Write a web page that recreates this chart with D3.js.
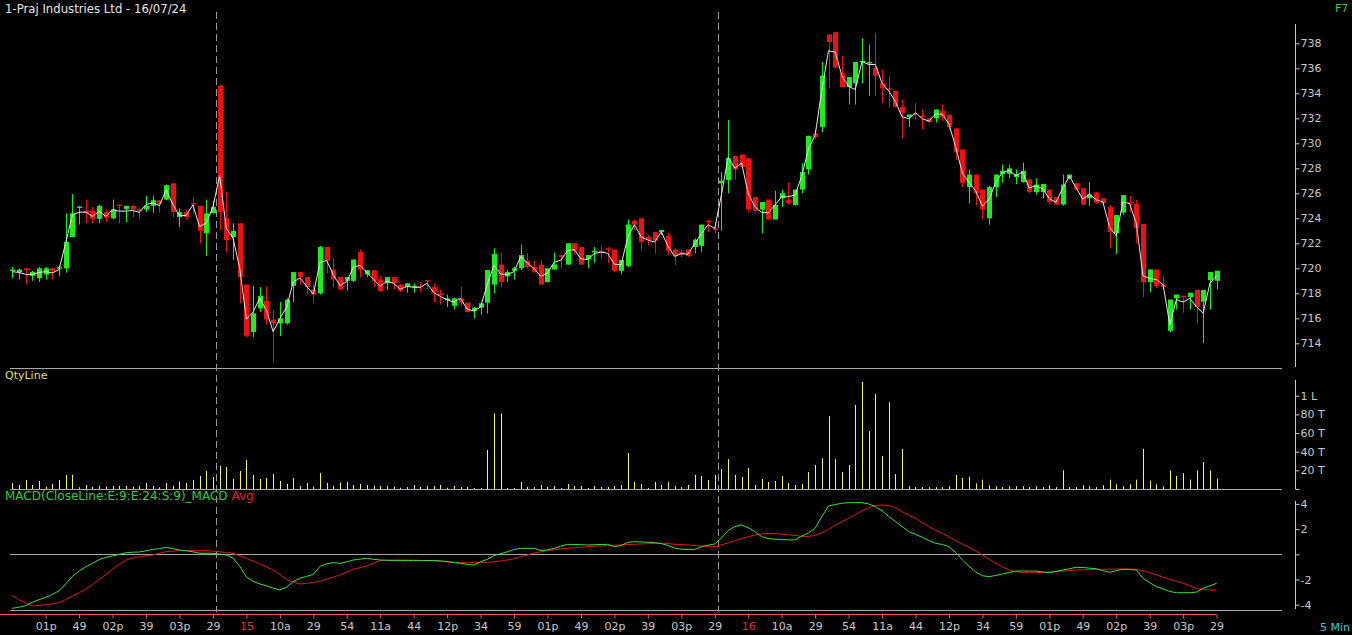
<!DOCTYPE html>
<html><head><meta charset="utf-8">
<script src="https://cdn.jsdelivr.net/npm/d3@7"></script>
<style>
html,body{margin:0;padding:0;background:#000;}
svg{display:block;font-family:"DejaVu Sans",sans-serif;}
</style></head><body>
<svg id="c" width="1352" height="635"></svg>
<script>
const title = "1-Praj Industries Ltd - 16/07/24";
const timeLabels = ["01p","49","02p","39","03p","29","15","10a","29","54","11a","44","12p","34","59","01p","49","02p","39","03p","29","16","10a","29","54","11a","44","12p","34","59","01p","49","02p","39","03p","29"];
const dateLabels = ["15","16"];
const dayStarts = [31,106];
const opens = [719.8,719.7,720.0,719.4,719.2,719.5,720.0,720.0,720.0,722.5,724.85,724.6,724.6,723.95,724.5,724.0,725.1,724.75,725.0,724.7,724.7,725.0,725.45,725.5,726.8,724.1,724.5,725.2,725.0,722.8,724.4,734.6,724.0,722.5,723.6,718.7,714.9,716.8,717.4,715.9,715.6,715.6,718.6,719.7,719.3,718.3,718.0,721.7,719.9,719.3,719.0,719.0,721.3,719.5,719.85,719.1,718.8,719.3,718.7,718.5,718.5,718.6,719.06,718.5,718.0,717.45,717.0,717.6,717.25,716.6,716.85,717.25,718.7,720.3,719.35,719.8,720.0,720.6,720.1,720.3,718.9,719.9,721.06,720.3,722.0,721.7,720.7,721.35,721.4,721.6,721.5,719.8,720.2,723.8,724.0,722.5,722.9,722.9,722.6,721.5,721.3,721.5,721.7,721.8,723.8,723.2,726.8,727.06,729.0,729.1,728.8,725.7,724.7,725.5,723.9,725.6,725.5,725.07,726.3,727.9,730.8,731.3,738.7,738.9,735.6,734.5,734.8,736.5,736.4,736.05,734.8,734.4,734.2,732.9,732.1,732.4,732.2,732.0,732.0,732.6,732.3,731.2,729.5,726.5,727.5,726.3,724.0,726.5,727.55,727.55,727.3,726.9,727.1,726.1,726.1,726.3,725.7,725.1,727.2,726.8,726.4,725.6,726.06,725.6,724.9,722.8,724.45,725.3,725.14,723.55,718.9,719.9,718.7,715.0,717.6,717.8,717.7,718.26,717.33,719.06,719.0];
const highs = [720.1,720.0,720.0,719.8,720.1,720.1,720.0,720.2,724.4,725.95,725.0,725.5,724.9,725.1,724.7,725.5,725.1,725.0,725.1,724.8,725.8,725.8,725.45,726.7,726.8,724.8,724.7,725.7,725.0,725.5,725.4,734.7,726.1,723.6,723.6,718.7,718.6,718.5,718.5,716.7,717.3,717.6,719.7,719.7,719.3,718.7,721.8,721.7,720.8,719.3,719.3,720.7,721.5,719.85,719.85,719.4,719.3,719.3,718.7,718.8,718.8,718.9,719.1,718.8,718.3,717.9,717.6,718.5,717.25,716.9,717.2,719.86,721.6,721.25,719.9,720.1,721.9,721.2,720.6,720.66,720.0,721.25,721.06,722.0,722.0,721.7,721.06,721.7,721.8,721.7,721.5,720.66,723.9,723.9,724.0,722.66,722.9,723.06,722.85,721.6,721.5,721.5,722.4,723.5,723.9,723.7,727.7,731.86,729.0,729.1,728.8,725.7,725.3,725.5,726.2,726.3,726.9,726.3,728.4,730.6,731.1,736.5,738.7,738.9,737.0,735.3,736.5,738.4,737.9,738.85,735.9,735.4,734.2,733.5,732.3,733.2,732.7,732.0,732.7,733.1,732.3,731.2,729.5,727.9,727.5,726.3,726.6,727.5,728.3,728.3,727.9,728.45,727.2,727.2,726.75,726.3,725.7,727.5,727.5,726.8,726.5,726.9,726.06,725.6,725.06,724.26,725.86,725.8,725.46,723.55,719.9,719.9,719.4,717.5,717.9,717.8,718.05,718.26,718.26,719.7,719.8];
const lows = [719.2,719.1,718.7,719.0,718.9,719.1,719.1,719.4,719.65,722.5,723.5,723.6,723.6,723.6,723.7,723.9,723.6,723.7,724.1,724.0,724.5,724.45,724.45,725.45,724.1,723.3,723.9,724.4,722.0,721.0,724.4,723.06,721.25,720.66,717.2,714.5,714.5,716.5,715.5,712.5,714.6,715.5,717.3,718.7,717.9,717.2,717.9,719.6,718.5,718.26,718.2,718.9,719.3,719.3,718.5,718.1,718.3,718.3,718.1,718.05,718.05,718.05,718.3,717.3,717.1,716.9,716.7,717.0,716.45,716.0,716.3,716.4,718.0,718.5,718.9,719.1,719.86,720.0,719.65,718.7,718.85,719.9,720.0,720.26,721.1,720.26,720.0,720.45,720.8,720.4,719.7,719.5,720.1,723.06,721.46,721.86,721.2,722.66,721.06,720.26,720.9,720.9,721.2,721.3,722.9,722.8,723.0,726.0,727.1,728.1,724.45,724.45,722.8,723.9,723.9,724.9,725.07,725.0,726.0,727.5,730.3,730.9,734.4,736.0,734.5,733.1,733.1,734.8,733.8,733.8,733.2,732.9,732.9,730.4,731.3,731.9,731.1,731.6,731.65,731.8,731.06,728.66,726.5,725.2,725.06,723.9,723.5,725.7,726.85,727.2,726.75,726.85,726.0,725.9,725.6,725.1,725.06,725.0,727.1,726.26,725.0,725.0,725.14,725.14,721.6,721.14,724.26,724.5,722.0,717.7,718.1,718.4,718.4,714.9,716.7,716.45,716.7,715.6,714.0,716.7,718.3];
const closes = [719.9,719.9,719.85,719.7,720.0,720.0,719.8,720.1,722.1,724.4,724.95,724.4,723.95,725.0,724.05,724.7,725.0,725.0,724.7,724.6,725.0,725.45,725.15,726.65,724.5,724.5,724.1,725.1,723.0,724.4,724.9,724.5,722.26,723.0,719.3,714.6,716.4,717.8,715.9,715.6,716.0,717.5,719.7,719.3,718.5,717.9,721.7,720.6,719.1,718.3,719.3,720.7,719.9,719.85,719.0,718.2,719.3,718.8,718.2,718.8,718.6,718.5,719.0,718.05,717.85,717.6,717.6,717.25,716.5,716.85,717.2,719.86,721.15,718.9,719.7,720.0,721.06,720.1,719.7,718.7,720.0,720.3,720.9,722.0,721.4,720.3,721.06,721.4,721.3,721.5,719.8,720.66,723.5,723.5,722.1,722.26,722.2,723.06,721.4,720.98,721.1,720.98,722.3,723.5,723.7,723.06,727.0,728.8,727.9,728.1,724.7,724.6,725.3,723.9,725.07,726.0,725.2,726.3,727.7,730.6,730.5,735.4,738.1,736.05,734.5,735.3,736.5,736.6,736.5,735.4,734.4,734.3,732.9,732.45,732.3,732.26,732.1,731.7,732.7,732.1,731.3,729.3,726.85,727.5,726.0,724.7,726.5,727.5,727.8,728.0,727.55,727.8,726.1,726.7,726.75,725.3,725.1,726.7,727.5,726.3,725.1,725.9,725.25,725.2,722.9,724.26,725.86,725.2,723.2,718.9,719.9,718.6,718.5,717.5,717.9,717.7,718.05,716.9,718.26,719.7,719.8];
const priceLine = [719.73,719.67,719.52,719.5,719.67,719.73,719.63,719.9,722.05,724.28,724.48,724.5,724.15,724.57,724.15,724.7,724.57,724.57,724.63,724.47,725.1,725.23,725.02,726.27,725.13,724.2,724.23,725.07,723.33,723.63,724.9,727.42,723.2,722.42,720.03,715.93,716.5,717.6,716.63,714.93,715.97,716.87,718.9,719.23,718.57,717.93,720.47,720.63,719.47,718.62,718.93,720.1,720.23,719.67,719.12,718.57,718.97,718.8,718.33,718.55,718.48,718.48,718.8,718.05,717.75,717.47,717.3,717.58,716.73,716.58,716.9,718.71,720.25,719.55,719.5,719.73,720.94,720.43,719.98,719.35,719.62,720.48,720.65,721.42,721.5,720.75,720.71,721.18,721.3,721.2,720.33,720.27,722.5,723.49,722.52,722.26,722.1,722.93,721.77,720.95,721.17,721.13,721.97,722.77,723.5,723.19,725.9,728.89,728.0,728.43,725.98,724.92,724.47,724.43,725.06,725.73,725.72,725.87,727.37,729.57,730.63,734.27,737.4,737.3,735.4,734.55,734.3,736.55,736.3,736.3,734.8,734.2,733.33,732.12,731.97,732.45,731.97,731.77,732.35,732.33,731.55,729.72,727.62,726.87,726.19,724.97,725.53,726.9,727.65,727.83,727.4,727.7,726.43,726.6,726.37,725.57,725.29,726.4,727.37,726.45,725.53,725.93,725.48,725.31,723.3,722.6,725.33,725.17,723.6,719.4,719.2,719.1,718.7,715.5,717.5,717.3,717.6,716.92,716.4,718.8,719.4];
const volumes = [6.4,4.3,9.6,4.3,8.6,2.5,5.4,9.6,15,15,1.8,4.3,2.5,3.2,2.5,3.2,3.2,3.2,2.5,3.2,6.4,3.2,1.8,6.4,3.6,7.9,6.4,9.6,13.9,19.3,12.9,25,23.6,10.7,19.3,31,15,10.7,11.8,16,8.6,5.4,11.8,3.2,6.4,2.5,17,6.4,3.6,7.1,7.5,4.3,5.4,4.3,3.6,3.2,3.2,2.5,1.4,2.1,4.3,2.1,3.2,3.2,4.3,1.4,3.2,2.1,2.1,1.1,1.1,41.8,81,81,1.1,1.1,7.5,2.1,2.1,4.3,2.1,3.2,1.1,5.4,3.2,3.2,1.1,3.2,2.1,2.1,3.2,4.3,38.6,7.5,5.4,1.1,7.5,4.3,7.5,3.2,2.1,4.3,15,13.9,9.6,15,21.4,32,15,12.9,22.5,4.3,10.7,7.5,8.6,13.9,6.4,4.3,5.4,18.2,25.7,33,78,32,18.2,25.7,90,114.7,62,101.8,35.4,93,16,43,3,2,2,2,2,2,3,15,12,13,6,10,4,3,2,3,3,3,2,3,2,4,2,20,2,2,4,3,2,4,10,5,3,5,10,43,9,5,3,20,14,17,10,20,29,20,11];
const macdLine = [-4.29,-4.2,-4.08,-3.82,-3.6,-3.42,-3.18,-2.9,-2.35,-1.75,-1.32,-1.0,-0.72,-0.42,-0.25,-0.13,0.0,0.12,0.17,0.18,0.28,0.39,0.45,0.55,0.45,0.34,0.28,0.2,0.08,0.08,0.08,0.02,-0.06,-0.3,-0.95,-1.8,-2.15,-2.35,-2.5,-2.68,-2.83,-2.6,-2.17,-1.9,-1.75,-1.6,-0.95,-0.75,-0.66,-0.72,-0.6,-0.45,-0.38,-0.32,-0.4,-0.45,-0.47,-0.5,-0.5,-0.5,-0.5,-0.5,-0.5,-0.5,-0.52,-0.58,-0.65,-0.72,-0.8,-0.85,-0.6,-0.4,-0.1,0.05,0.2,0.38,0.47,0.47,0.47,0.3,0.35,0.47,0.65,0.79,0.78,0.76,0.74,0.76,0.78,0.79,0.6,0.7,0.95,1.0,0.98,0.96,0.93,0.85,0.7,0.5,0.4,0.39,0.39,0.6,0.72,0.82,1.3,1.88,2.2,2.33,2.1,1.8,1.4,1.25,1.2,1.17,1.15,1.14,1.45,1.7,2.06,3.0,3.83,3.95,4.05,4.1,4.1,4.1,4.0,3.78,3.45,3.0,2.6,2.2,1.8,1.58,1.35,1.1,0.87,0.78,0.6,0.15,-0.45,-0.95,-1.4,-1.7,-1.77,-1.68,-1.56,-1.45,-1.33,-1.33,-1.33,-1.33,-1.4,-1.46,-1.35,-1.25,-1.15,-1.03,-1.05,-1.1,-1.14,-1.3,-1.43,-1.3,-1.19,-1.2,-1.25,-1.91,-2.25,-2.57,-2.75,-2.95,-3.05,-3.05,-3.05,-3.0,-2.7,-2.5,-2.3];
const macdAvg = [-3.25,-3.6,-3.85,-4.1,-4.05,-4.0,-3.92,-3.84,-3.6,-3.31,-3.05,-2.78,-2.4,-1.99,-1.6,-1.19,-0.8,-0.45,-0.3,-0.19,-0.12,-0.06,0.08,0.21,0.25,0.29,0.29,0.29,0.29,0.28,0.26,0.2,0.14,0.08,-0.12,-0.32,-0.55,-0.77,-1.0,-1.25,-1.6,-1.99,-2.2,-2.36,-2.3,-2.25,-2.12,-1.99,-1.8,-1.64,-1.4,-1.19,-1.05,-0.93,-0.7,-0.5,-0.47,-0.45,-0.45,-0.46,-0.47,-0.48,-0.49,-0.5,-0.55,-0.6,-0.63,-0.66,-0.66,-0.66,-0.66,-0.66,-0.58,-0.53,-0.45,-0.35,-0.2,-0.05,0.1,0.2,0.29,0.36,0.43,0.47,0.52,0.56,0.6,0.64,0.66,0.69,0.72,0.75,0.78,0.8,0.82,0.84,0.86,0.87,0.85,0.8,0.77,0.74,0.7,0.66,0.63,0.61,0.75,0.9,1.08,1.25,1.4,1.52,1.62,1.67,1.64,1.6,1.55,1.5,1.42,1.42,1.5,1.7,2.0,2.3,2.6,2.85,3.15,3.46,3.7,3.88,3.91,3.86,3.7,3.38,3.1,2.85,2.5,2.19,1.9,1.67,1.38,1.08,0.8,0.55,0.25,-0.06,-0.4,-0.72,-1.0,-1.25,-1.38,-1.46,-1.46,-1.46,-1.43,-1.4,-1.38,-1.33,-1.29,-1.25,-1.23,-1.21,-1.2,-1.19,-1.18,-1.17,-1.17,-1.18,-1.19,-1.3,-1.46,-1.64,-1.82,-1.99,-2.15,-2.3,-2.5,-2.73,-2.78,-2.83,-2.83];
const priceTicks = [714,716,718,720,722,724,726,728,730,732,734,736,738];
const qtyTicks = [0,20,40,60,80,100];
const qtyTickLabels = ["","20 T","40 T","60 T","80 T","1 L"];
const macdTicks = [-4,-2,0,2,4];
const macdTickLabels = ["-4","-2","","2","4"];

const N = closes.length;
const candles = d3.range(N).map(i => ({i, o: opens[i], h: highs[i], l: lows[i], c: closes[i], v: volumes[i]}));

const svg = d3.select("#c");
svg.append("rect").attr("width",1352).attr("height",635).attr("fill","#000");

const x = d3.scaleLinear().domain([0, N-1]).range([12.2, 1216.6]);
const yP = d3.scaleLinear().domain([714, 738]).range([343.3, 43.3]);
const yV = d3.scaleLinear().domain([0, 100]).range([489, 395.7]);
const yM = d3.scaleLinear().domain([-4, 4]).range([604.7, 503.9]);

const GRAY = "#a8a8a8", TXT = "#c8c8c8";
const UP = "#19f019", DN = "#f01010";

// titles
svg.append("text").attr("x",5).attr("y",12.5).attr("fill","#e6e6e6").attr("font-size",11.7).text(title);
svg.append("text").attr("x",1335).attr("y",12).attr("fill","#2ecc40").attr("font-size",11).text("F7");

// panel separators
[368.3, 489, 554.3, 610.3].forEach(yy => {
  svg.append("line").attr("x1",10).attr("x2",1282).attr("y1",yy).attr("y2",yy)
    .attr("stroke",GRAY).attr("stroke-width",1).attr("shape-rendering","crispEdges");
});

// day separators
dayStarts.forEach(s => {
  const xx = Math.round((x(s-1)+x(s))/2)+0.5;
  svg.append("line").attr("x1",xx).attr("x2",xx).attr("y1",12).attr("y2",612)
    .attr("stroke","#9a9a9a").attr("stroke-width",1).attr("stroke-dasharray","7,4");
});

// candles
const cg = svg.append("g");
cg.selectAll("line.w").data(candles).join("line").attr("class","w")
  .attr("x1",d=>Math.round(x(d.i))+0.5).attr("x2",d=>Math.round(x(d.i))+0.5)
  .attr("y1",d=>yP(d.h)).attr("y2",d=>yP(d.l))
  .attr("stroke",d=>d.c>=d.o?UP:DN).attr("stroke-width",1);
cg.selectAll("rect.b").data(candles).join("rect").attr("class","b")
  .attr("x",d=>Math.round(x(d.i))-2).attr("width",5)
  .attr("y",d=>yP(Math.max(d.o,d.c)))
  .attr("height",d=>Math.max(1.5, Math.abs(yP(d.o)-yP(d.c))))
  .attr("fill",d=>d.c>=d.o?UP:DN);

// white line
svg.append("path").datum(priceLine)
  .attr("d", d3.line().x((d,i)=>x(i)).y(d=>yP(d)))
  .attr("fill","none").attr("stroke","#e8e8e8").attr("stroke-width",1);

// price axis
svg.append("line").attr("x1",1295.5).attr("x2",1295.5).attr("y1",24).attr("y2",367).attr("stroke",TXT);
const pa = svg.append("g").attr("transform","translate(1295.5,0)")
  .call(d3.axisRight(yP).tickValues(priceTicks).tickSize(4).tickSizeOuter(0).tickFormat(d3.format("d")));
pa.select(".domain").remove();

// volume
svg.append("text").attr("x",5).attr("y",379).attr("fill","#e6df6a").attr("font-size",11).text("QtyLine");
svg.append("g").selectAll("line").data(candles).join("line")
  .attr("x1",d=>Math.round(x(d.i))+0.5).attr("x2",d=>Math.round(x(d.i))+0.5)
  .attr("y1",yV(0)).attr("y2",d=>yV(d.v))
  .attr("stroke","#f2f27a").attr("stroke-width",1);
svg.append("line").attr("x1",1295.5).attr("x2",1295.5).attr("y1",380).attr("y2",489).attr("stroke",TXT);
const va = svg.append("g").attr("transform","translate(1295.5,0)")
  .call(d3.axisRight(yV).tickValues(qtyTicks).tickSize(4).tickSizeOuter(0).tickFormat((d,i)=>qtyTickLabels[i]));
va.select(".domain").remove();

// MACD
const mt = svg.append("text").attr("x",5).attr("y",500).attr("font-size",12);
mt.append("tspan").attr("fill","#2ecc40").text("MACD(CloseLine:E:9:E:24:S:9)_MACD ");
mt.append("tspan").attr("fill","#e02020").text("Avg");
svg.append("path").datum(macdAvg)
  .attr("d", d3.line().x((d,i)=>x(i)).y(d=>yM(d)))
  .attr("fill","none").attr("stroke","#e01818").attr("stroke-width",1);
svg.append("path").datum(macdLine)
  .attr("d", d3.line().x((d,i)=>x(i)).y(d=>yM(d)))
  .attr("fill","none").attr("stroke","#3ae23a").attr("stroke-width",1);
svg.append("line").attr("x1",1295.5).attr("x2",1295.5).attr("y1",501).attr("y2",609).attr("stroke",TXT);
const ma = svg.append("g").attr("transform","translate(1295.5,0)")
  .call(d3.axisRight(yM).tickValues(macdTicks).tickSize(4).tickSizeOuter(0).tickFormat((d,i)=>macdTickLabels[i]));
ma.select(".domain").remove();

// style axes
svg.selectAll(".tick line").attr("stroke",TXT);
svg.selectAll(".tick text").attr("fill",TXT).attr("font-size",11).attr("font-family","DejaVu Sans").attr("x",5);

// time axis
const tickIdx = timeLabels.map((t,k)=>5+5*k);
const ta = svg.append("g").attr("transform","translate(0,614.5)")
  .call(d3.axisBottom(x).tickValues(tickIdx).tickSize(4).tickSizeOuter(0)
    .tickFormat((d,k)=>timeLabels[k]));
ta.select(".domain").attr("d","M0,0H"+x(N-1)).attr("stroke","#e86060");
ta.selectAll(".tick line").attr("stroke","#e86060");
ta.selectAll(".tick text").attr("font-size",11).attr("font-family","DejaVu Sans").attr("y",8)
  .attr("fill",(d,k)=>dateLabels.includes(timeLabels[k])?"#e03030":TXT);
svg.append("text").attr("x",1320).attr("y",631).attr("fill","#38c8d8").attr("font-size",11).text("5 Min");
</script></body></html>
